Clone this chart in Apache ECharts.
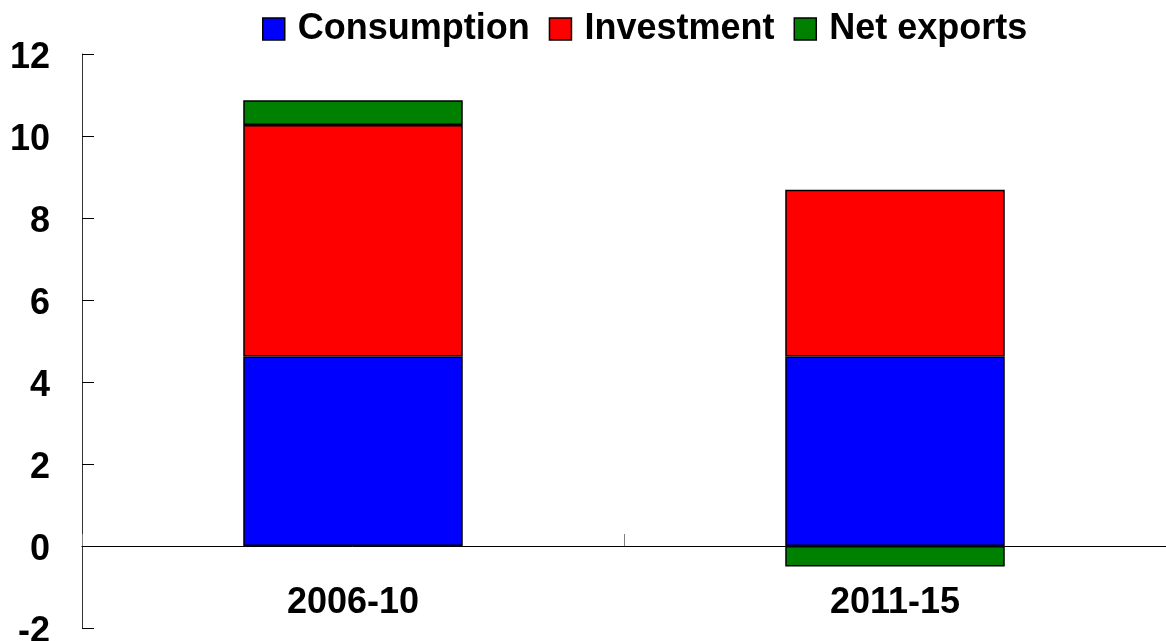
<!DOCTYPE html>
<html>
<head>
<meta charset="utf-8">
<script src="https://cdn.jsdelivr.net/npm/echarts@6/dist/echarts.min.js"></script>
<style>
  html, body { margin: 0; padding: 0; background: #fff; }
  #chart { width: 1166px; height: 641px; }
</style>
</head>
<body>
<div id="chart"></div>
<script>
// Contributions to growth by period (percentage points)
const periods = ['2006-10', '2011-15'];
const consumption = [4.62, 4.62];
const investment = [5.65, 4.07];
const netExports = [0.6, -0.5];
const yTicks = { min: -2, max: 12, step: 2 };

const FONT = '"Liberation Sans", Arial, sans-serif';
const border = { borderColor: '#000', borderWidth: 1.5 };

function barSeries(name, data, color) {
  return {
    name: name,
    type: 'bar',
    stack: 'total',
    data: data,
    barWidth: '40.5%',
    itemStyle: Object.assign({ color: color }, border)
  };
}

const chart = echarts.init(document.getElementById('chart'), null, { renderer: 'canvas' });
chart.setOption({
  animation: false,
  backgroundColor: '#fff',
  textStyle: { fontFamily: FONT },
  legend: {
    top: 6,
    left: 257,
    icon: 'rect',
    itemWidth: 22,
    itemHeight: 22,
    itemGap: 19,
    textStyle: { fontFamily: FONT, fontSize: 36, fontWeight: 'bold', color: '#000', padding: [0, 0, 0, 8] },
    itemStyle: { borderColor: '#000', borderWidth: 1.5 }
  },
  grid: { left: 82, right: 0, top: 54, bottom: 13, containLabel: false, outerBoundsMode: 'none' },
  xAxis: {
    type: 'category',
    data: periods,
    axisLine: { lineStyle: { color: '#000', width: 1 } },
    axisTick: { show: true, inside: true, length: 12, lineStyle: { color: '#808080', width: 1 } },
    // labels sit just under the zero line
    axisLabel: { margin: -43, fontSize: 36, fontWeight: 'bold', color: '#000', fontFamily: FONT }
  },
  yAxis: {
    type: 'value',
    min: yTicks.min,
    max: yTicks.max,
    interval: yTicks.step,
    splitLine: { show: false },
    axisLine: { show: true, lineStyle: { color: '#333', width: 1 } },
    axisTick: { show: true, inside: true, length: 12, lineStyle: { color: '#000' } },
    axisLabel: {
      margin: 32, fontSize: 36, fontWeight: 'bold', color: '#000', fontFamily: FONT,
      verticalAlign: 'top', lineHeight: 36, padding: [-14, 0, 0, 0]
    }
  },
  series: [
    barSeries('Consumption', consumption, '#0000ff'),
    barSeries('Investment', investment, '#ff0000'),
    barSeries('Net exports', netExports, '#008000')
  ]
});
</script>
</body>
</html>
